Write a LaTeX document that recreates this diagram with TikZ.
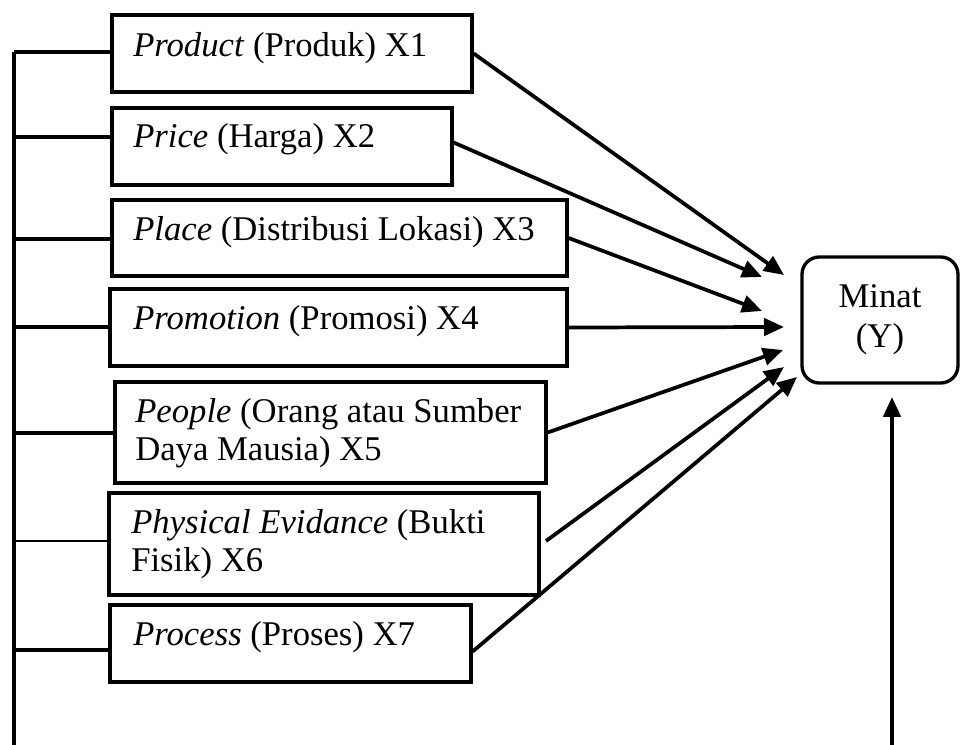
\documentclass[tikz,border=0pt]{standalone}
\usepackage{fontspec}
\setmainfont{Liberation Serif}
\usetikzlibrary{arrows.meta,fit}
\begin{document}
\begin{tikzpicture}[x=0.75pt,y=-0.75pt,
  boxs/.style={draw,line width=2.5pt,inner sep=0pt},
  lbl/.style={anchor=base west,inner sep=0pt,align=left,font=\fontsize{26}{28}\selectfont},
  arr/.style={line width=2.8pt,-{Triangle[length=15pt,width=13pt]}},
  con/.style={line width=2.8pt}]
\useasboundingbox (0,0) rectangle (961,745);
% boxes
\node[boxs,fit={(112,15)(472,92)}] (b1) {};
\node[boxs,fit={(112,108)(452,185)}] (b2) {};
\node[boxs,fit={(112,200)(567,276)}] (b3) {};
\node[boxs,fit={(110,289)(567,366)}] (b4) {};
\node[boxs,fit={(115,382)(546,483)}] (b5) {};
\node[boxs,fit={(109,493)(539,595)}] (b6) {};
\node[boxs,fit={(110,605)(471,682)}] (b7) {};
% texts
\node[lbl] (t1) at (133,57) {\textit{Product} (Produk) X1};
\node[lbl] (t2) at (133,148) {\textit{Price} (Harga) X2};
\node[lbl] (t3) at (133,241) {\textit{Place} (Distribusi Lokasi) X3};
\node[lbl] (t4) at (133,330) {\textit{Promotion} (Promosi) X4};
\node[lbl] (t5) at (135,460) {\textit{People} (Orang atau Sumber\\Daya Mausia) X5};
\node[lbl] (t6) at (131,571) {\textit{Physical Evidance} (Bukti\\Fisik) X6};
\node[lbl] (t7) at (133,645) {\textit{Process} (Proses) X7};
% target
\node[draw,line width=2.5pt,rounded corners=13pt,minimum width=117pt,minimum height=94.5pt,
  align=center,font=\fontsize{26}{30}\selectfont] (m) at (880,320) {Minat\\(Y)};
% arrow tips
\coordinate (e1) at (784,275);
\coordinate (e2) at (762,277);
\coordinate (e3) at (762,311);
\coordinate (e4) at (784,327);
\coordinate (e5) at (783,350);
\coordinate (e6) at (784,367);
\coordinate (e7) at (797,377);
\coordinate (s6) at (546,541);
\draw[arr] (b1.east) -- (e1);
\draw[arr] ([yshift=3pt]b2.east) -- (e2);
\draw[arr] (b3.east) -- (e3);
\draw[arr] (b4.east) -- (e4);
\draw[arr] (b5.east) -- (e5);
\draw[arr] (s6) -- (e6);
\draw[arr] ([yshift=-6pt]b7.east) -- (e7);
% bottom arrow
\coordinate (bt) at (892,745);
\coordinate (mt) at (892,397);
\draw[arr] (bt) -- (mt);
% left spine
\coordinate (sp1) at (14,52);
\coordinate (sp2) at (14,137);
\coordinate (sp3) at (14,239);
\coordinate (sp4) at (14,327);
\coordinate (sp5) at (14,433);
\coordinate (sp6) at (14,541);
\coordinate (sp7) at (14,650);
\coordinate (spb) at (14,745);
\draw[con] (sp1) -- (spb);
\draw[con] (sp1) -- (sp1 -| b1.west);
\draw[con] (sp2) -- (sp2 -| b2.west);
\draw[con] (sp3) -- (sp3 -| b3.west);
\draw[con] (sp4) -- (sp4 -| b4.west);
\draw[con] (sp5) -- (sp5 -| b5.west);
\draw[line width=1.8pt] (sp6) -- (sp6 -| b6.west);
\draw[con] (sp7) -- (sp7 -| b7.west);
\end{tikzpicture}
\end{document}
